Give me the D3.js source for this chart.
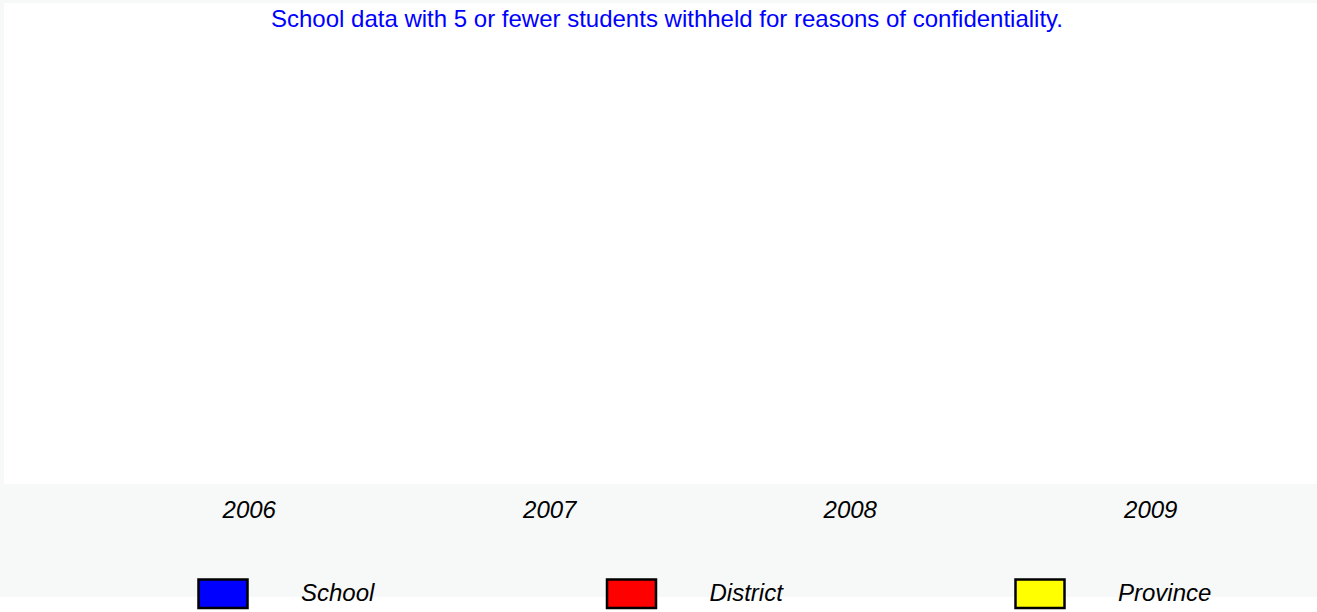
<!DOCTYPE html>
<html><head><meta charset="utf-8">
<script src="https://cdn.jsdelivr.net/npm/d3@7"></script>
<style>html,body{margin:0;padding:0;background:#fff;}svg{display:block;}</style>
</head><body>
<div id="chart"></div>
<script>
// Data
const categories = ["2006", "2007", "2008", "2009"];
const seriesNames = ["School", "District", "Province"];
const seriesColors = ["#0000ff", "#ff0000", "#ffff00"];
// Values withheld (5 or fewer students) – nothing to plot
const schoolValues = [null, null, null, null];
const districtValues = [null, null, null, null];
const provinceValues = [null, null, null, null];
const titleText = "School data with 5 or fewer students withheld for reasons of confidentiality.";

const W = 1317, H = 612;
const svg = d3.select("#chart").append("svg").attr("width", W).attr("height", H);
const font = "'Liberation Sans', Arial, sans-serif";

// backgrounds
svg.append("rect").attr("x", 0).attr("y", 0).attr("width", W).attr("height", 484).attr("fill", "#f7f9f8");
svg.append("rect").attr("x", 4).attr("y", 3).attr("width", W - 4).attr("height", 481).attr("fill", "#ffffff");
svg.append("rect").attr("x", 0).attr("y", 484).attr("width", W).attr("height", 113).attr("fill", "#f7f9f8");

// scales
const x0 = d3.scaleBand().domain(categories).range([99, 1301]).padding(0);
const x1 = d3.scaleBand().domain(seriesNames).range([0, x0.bandwidth()]).padding(0.1);
const y = d3.scaleLinear().domain([0, 100]).range([484, 60]);

// bars (none drawn: values withheld)
const allSeries = [schoolValues, districtValues, provinceValues];
const barData = [];
allSeries.forEach((vals, si) => vals.forEach((v, ci) => {
  if (v != null) barData.push({ s: seriesNames[si], c: categories[ci], v, color: seriesColors[si] });
}));
svg.append("g").selectAll("rect").data(barData).join("rect")
  .attr("x", d => x0(d.c) + x1(d.s)).attr("width", x1.bandwidth())
  .attr("y", d => y(d.v)).attr("height", d => y(0) - y(d.v))
  .attr("fill", d => d.color).attr("stroke", "#000");

// title
svg.append("text").attr("x", 667).attr("y", 27).attr("text-anchor", "middle")
  .attr("font-family", font).attr("font-size", 24).attr("fill", "#0000ff").text(titleText);

// x axis labels
const xAxis = d3.axisBottom(x0).tickSize(0).tickPadding(0);
const gx = svg.append("g").attr("transform", "translate(0,518)").call(xAxis);
gx.select(".domain").remove();
gx.selectAll("text").attr("dy", 0).attr("font-family", font).attr("font-size", 24)
  .attr("font-style", "italic").attr("fill", "#000");

// legend
const lx = d3.scalePoint().domain(seriesNames).range([197, 1014]);
const lg = svg.append("g").selectAll("g").data(seriesNames).join("g")
  .attr("transform", d => `translate(${lx(d)},0)`);
lg.append("rect").attr("x", 1.5).attr("y", 579.5).attr("width", 49).attr("height", 28.5)
  .attr("fill", (d, i) => seriesColors[i]).attr("stroke", "#000").attr("stroke-width", 2.5);
lg.append("text").attr("x", 104).attr("y", 601).attr("font-family", font).attr("font-size", 24)
  .attr("font-style", "italic").attr("fill", "#000").text(d => d);
</script>
</body></html>
